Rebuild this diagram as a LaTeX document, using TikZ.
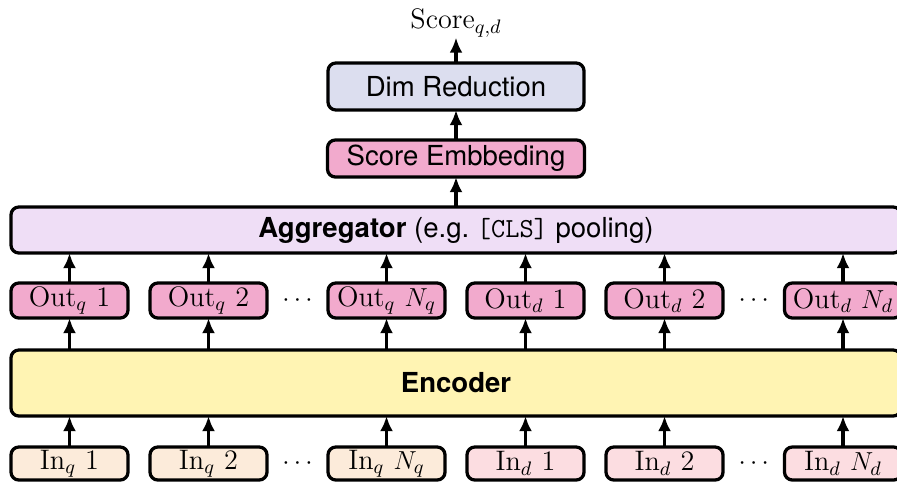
\documentclass[tikz,border=0pt]{standalone}
\usepackage{fontspec}
\setsansfont{TeX Gyre Heros}
\usetikzlibrary{arrows.meta}

\definecolor{aggfill}{HTML}{EFDEF6}
\definecolor{dimfill}{HTML}{DCDEEF}
\definecolor{pinkfill}{HTML}{F2AACD}
\definecolor{encfill}{HTML}{FFF4B3}
\definecolor{inqfill}{HTML}{FCEBDA}
\definecolor{indfill}{HTML}{FCDDE1}

\tikzset{
  blk/.style={draw=black, line width=1.5pt, rounded corners=3.6pt,
    inner sep=0pt, outer sep=0pt},
  sanslabel/.style={font=\sffamily\fontsize{12.7}{15}\selectfont},
  serlabel/.style={font=\fontsize{13}{15}\selectfont},
  tok/.style={blk, serlabel, minimum width=117*0.461pt, minimum height=35*0.461pt},
  intok/.style={blk, serlabel, minimum width=117*0.461pt, minimum height=33*0.461pt},
  outtok/.style={tok, fill=pinkfill},
  arr/.style={line width=1.5pt, -{Latex[length=7pt,width=6pt]}},
  dotsnode/.style={serlabel, inner sep=0pt}
}

\begin{document}
\begin{tikzpicture}[x=0.461pt, y=-0.461pt]
  \useasboundingbox (0,0) rectangle (897,485);
  \clip (0,0) rectangle (897,485);

  % top stack
  \node[serlabel, inner sep=0pt] (score) at (456,23) {$\mathrm{Score}_{q,d}$};
  \node[blk, sanslabel, fill=dimfill, minimum width=256*0.461pt, minimum height=47*0.461pt]
    (dim) at (456,86.5) {Dim Reduction};
  \node[blk, sanslabel, fill=pinkfill, minimum width=257*0.461pt, minimum height=37*0.461pt]
    (semb) at (456,158.5) {Score Embbeding};
  \node[blk, sanslabel, fill=aggfill, minimum width=890*0.461pt, minimum height=46*0.461pt]
    (agg) at (456,230) {\textbf{Aggregator} (e.g.\ \texttt{[CLS]} pooling)};

  % encoder
  \node[blk, sanslabel, fill=encfill, minimum width=890*0.461pt, minimum height=66*0.461pt]
    (enc) at (456,383) {\textbf{Encoder}};

  % output tokens
  \node[outtok] (oq1) at (69.5,300.5)  {Out$_q$ 1};
  \node[outtok] (oq2) at (208.5,300.5) {Out$_q$ 2};
  \node[outtok] (oqn) at (386.5,300.5) {Out$_q$ $N_q$};
  \node[outtok] (od1) at (525.5,300.5) {Out$_d$ 1};
  \node[outtok] (od2) at (664.5,300.5) {Out$_d$ 2};
  \node[outtok] (odn) at (843,300.5)   {Out$_d$ $N_d$};
  \node[dotsnode] (odotsq) at (297.5,300.5) {$\cdots$};
  \node[dotsnode] (odotsd) at (753.75,300.5) {$\cdots$};

  % input tokens
  \node[intok, fill=inqfill] (iq1) at (69.5,463.5)  {In$_q$ 1};
  \node[intok, fill=inqfill] (iq2) at (208.5,463.5) {In$_q$ 2};
  \node[intok, fill=inqfill] (iqn) at (386.5,463.5) {In$_q$ $N_q$};
  \node[intok, fill=indfill] (id1) at (525.5,463.5) {In$_d$ 1};
  \node[intok, fill=indfill] (id2) at (664.5,463.5) {In$_d$ 2};
  \node[intok, fill=indfill] (idn) at (843,463.5)   {In$_d$ $N_d$};
  \node[dotsnode] (idotsq) at (297.5,463.5) {$\cdots$};
  \node[dotsnode] (idotsd) at (753.75,463.5) {$\cdots$};

  % connectors
  \draw[arr] (dim) -- (score);
  \draw[arr] (semb) -- (dim);
  \draw[arr] (agg.north -| semb) -- (semb);
  \foreach \t in {1,2,n}{
    \draw[arr] (iq\t) -- (iq\t |- enc.south);
    \draw[arr] (id\t) -- (id\t |- enc.south);
    \draw[arr] (oq\t |- enc.north) -- (oq\t);
    \draw[arr] (od\t |- enc.north) -- (od\t);
    \draw[arr] (oq\t) -- (oq\t |- agg.south);
    \draw[arr] (od\t) -- (od\t |- agg.south);
  }
\end{tikzpicture}
\end{document}
